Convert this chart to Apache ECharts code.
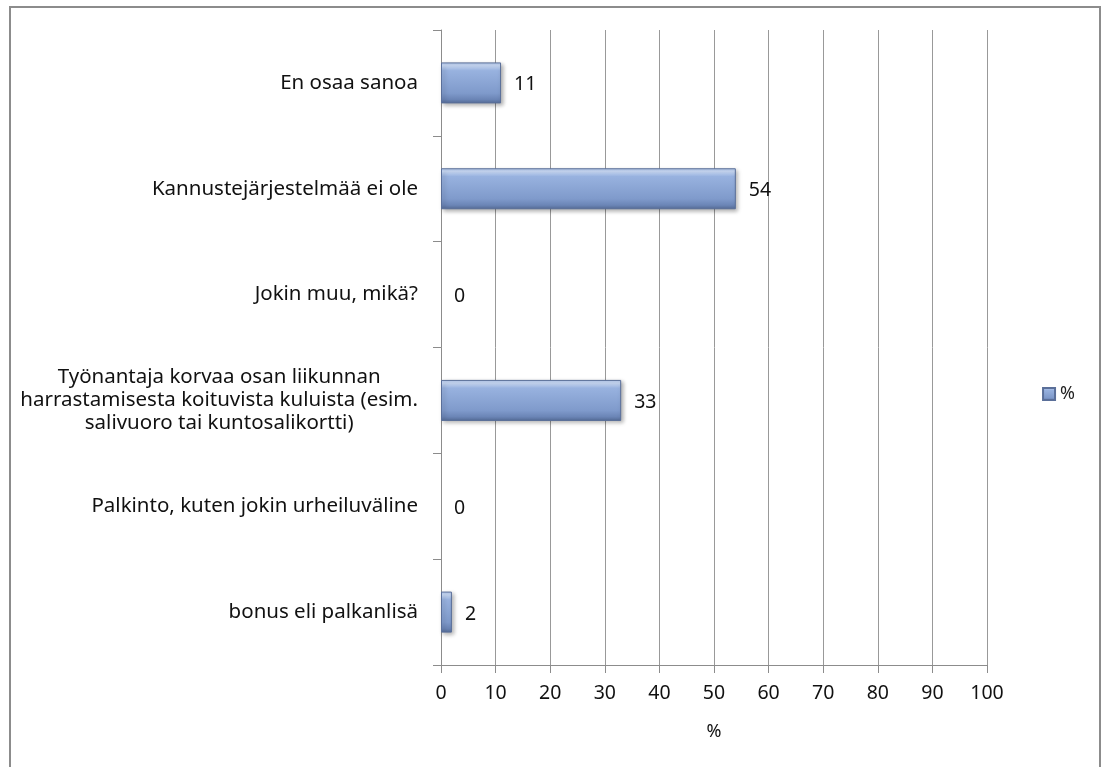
<!DOCTYPE html>
<html>
<head>
<meta charset="utf-8">
<script src="https://cdn.jsdelivr.net/npm/echarts@6/dist/echarts.min.js"></script>
<style>
  html, body { margin: 0; padding: 0; background: #fff; }
  #frame { position: absolute; left: 9px; top: 6px; width: 1092px; height: 770px; border: 2px solid #8c8c8c; box-sizing: border-box; }
  #chart { position: absolute; left: 0; top: 0; width: 1102px; height: 767px; }
</style>
</head>
<body>
<div id="frame"></div>
<div id="chart"></div>
<script>
// Answer categories, listed bottom to top as they appear on the axis
const categories = [
  'bonus eli palkanlisä',
  'Palkinto, kuten jokin urheiluväline',
  'Työnantaja korvaa osan liikunnan\nharrastamisesta koituvista kuluista (esim.\nsalivuoro tai kuntosalikortti)',
  'Jokin muu, mikä?',
  'Kannustejärjestelmää ei ole',
  'En osaa sanoa'
];
const values = [2, 0, 33, 0, 54, 11];
const seriesName = '%';
const xTicks = [0, 10, 20, 30, 40, 50, 60, 70, 80, 90, 100];

const font = 'Noto Sans';
const barFill = new echarts.graphic.LinearGradient(0, 0, 0, 1, [
  { offset: 0, color: '#b4c9ee' },
  { offset: 0.08, color: '#c9daf6' },
  { offset: 0.2, color: '#98b2df' },
  { offset: 0.75, color: '#7f9acb' },
  { offset: 0.9, color: '#6b85b6' },
  { offset: 1, color: '#566d98' }
]);

// zero values get no visible bar, only their label
const barData = values.map(v => v === 0
  ? { value: v, itemStyle: { borderWidth: 0, opacity: 0 }, label: { opacity: 1 } }
  : { value: v });

const chart = echarts.init(document.getElementById('chart'));
chart.setOption({
  animation: false,
  textStyle: { fontFamily: font },
  grid: { left: 441, right: 115, top: 30, bottom: 102, containLabel: false },
  legend: {
    data: [{ name: seriesName, icon: 'rect' }],
    orient: 'vertical',
    right: 22,
    top: 380,
    itemWidth: 12,
    itemHeight: 12,
    itemGap: 5,
    textStyle: { fontFamily: font, fontSize: 18, color: '#222' }
  },
  xAxis: {
    type: 'value',
    min: 0,
    max: 100,
    interval: 10,
    name: '%',
    nameLocation: 'middle',
    nameGap: 58,
    nameTextStyle: { fontFamily: font, fontSize: 18, color: '#111' },
    axisLine: { show: true, lineStyle: { color: '#8c8c8c', width: 1 } },
    axisTick: { show: true, length: 8, inside: false, lineStyle: { color: '#8c8c8c' } },
    axisLabel: {
      fontFamily: font, fontSize: 19.5, color: '#111', margin: 18,
      formatter: v => xTicks.includes(v) ? String(v) : ''
    },
    splitLine: { show: true, lineStyle: { color: '#999999', width: 1 } }
  },
  yAxis: {
    type: 'category',
    data: categories,
    axisLine: { show: true, lineStyle: { color: '#8c8c8c', width: 1 } },
    axisTick: { show: true, length: 8, lineStyle: { color: '#8c8c8c' } },
    axisLabel: {
      fontFamily: font, fontSize: 20.5, color: '#111', margin: 23,
      align: 'right', lineHeight: 23,
      formatter: v => v.split('\n').map(line => '{c|' + line + '}').join('\n'),
      rich: {
        c: { fontFamily: font, fontSize: 20.5, color: '#111', align: 'center', lineHeight: 23 }
      }
    },
    splitLine: { show: false }
  },
  series: [{
    name: seriesName,
    type: 'bar',
    data: barData,
    barWidth: 41,
    itemStyle: {
      color: barFill,
      borderColor: '#5a6f99',
      borderWidth: 1,
      shadowColor: 'rgba(0,0,0,0.3)',
      shadowBlur: 4,
      shadowOffsetX: 2,
      shadowOffsetY: 2
    },
    label: {
      show: true,
      position: 'right',
      distance: 13,
      offset: [0, 2],
      fontFamily: font,
      fontSize: 19.5,
      color: '#111'
    }
  }]
});
</script>
</body>
</html>
